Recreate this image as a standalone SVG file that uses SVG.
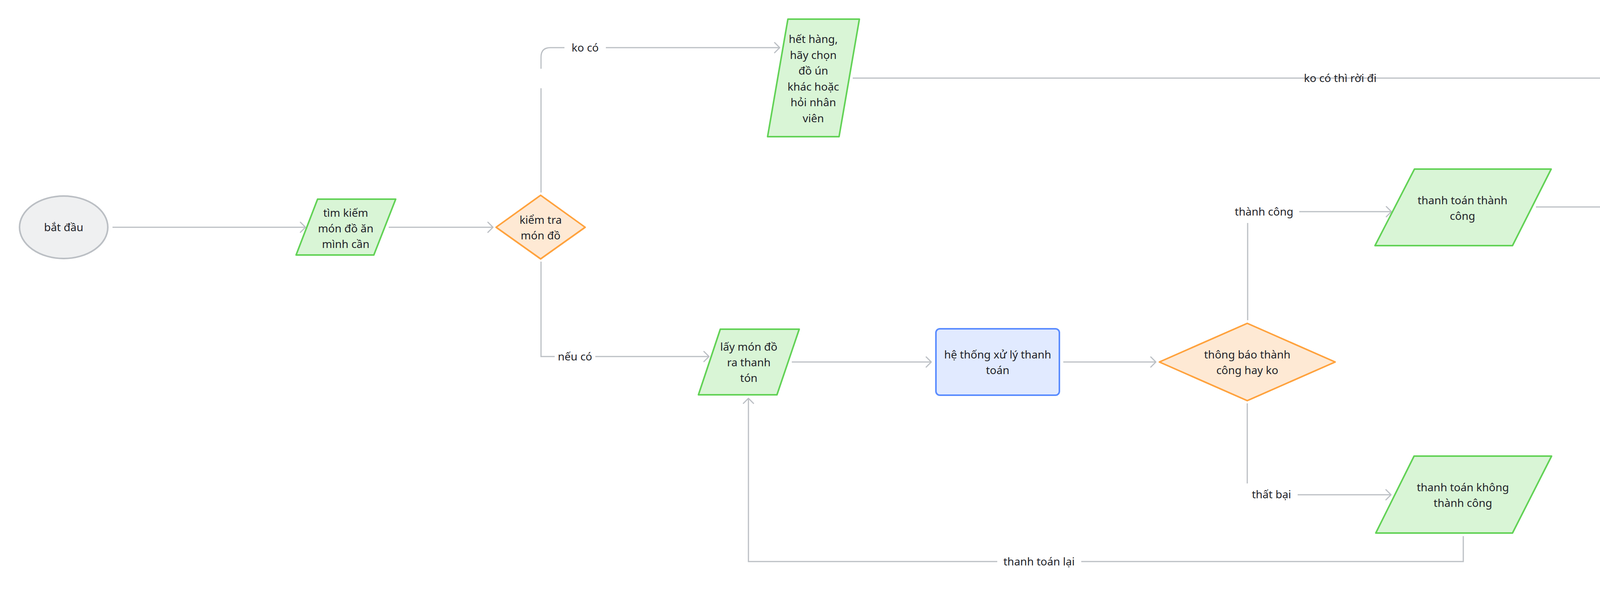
<svg xmlns="http://www.w3.org/2000/svg" width="4748" height="1516" viewBox="0 0 4748 1516">
  <style>
    text { font-family: "Noto Sans", "Open Sans", "DejaVu Sans", sans-serif; font-size: 28px; fill: #1f2329; text-anchor: middle; }
    .term { fill: #eff0f1; stroke: #bbbfc4; stroke-width: 4; }
    .io { fill: #d9f5d6; stroke: #62d256; stroke-width: 4; stroke-linejoin: round; }
    .dec { fill: #fee9d4; stroke: #ffa23d; stroke-width: 4; stroke-linejoin: round; }
    .proc { fill: #e1eaff; stroke: #5a8cff; stroke-width: 4; }
    .conn { fill: none; stroke: #bbbfc4; stroke-width: 3; marker-end: url(#arrow); }
    .lblbg { fill: #ffffff; stroke: none; }
  </style>
  <defs>
    <marker id="arrow" markerUnits="userSpaceOnUse" markerWidth="32" markerHeight="32" viewBox="-16 -16 32 32" refX="0" refY="0" orient="auto">
      <path d="M-13,-13 L0,0 L-13,13" fill="none" stroke="#bbbfc4" stroke-width="3" stroke-linecap="round" stroke-linejoin="round"/>
    </marker>
  </defs>
  <rect x="0" y="0" width="4748" height="1516" fill="#ffffff"/>

  <g id="connectors">
    <path class="conn" d="M288,582 H782"/>
    <path class="conn" d="M995,582 H1262"/>
    <path class="conn" d="M1385,493 V146 Q1385,122 1409,122 H1996"/>
    <path class="conn" d="M1385,670 V913 H1815"/>
    <path class="conn" d="M2027,927 H2384"/>
    <path class="conn" d="M2722,927 H2959"/>
    <path class="conn" d="M3194,820 V542 H3562"/>
    <path class="conn" d="M3932,530 H4235"/>
    <path class="conn" d="M2183,200 H4470 V423"/>
    <path class="conn" d="M3193,1033 V1267 H3561"/>
    <path class="conn" d="M3746,1373 V1438 H1916 V1020"/>
  </g>

  <g id="connector-labels">
    <rect class="lblbg" x="1445" y="98" width="106" height="50"/>
    <text x="1498" y="132">ko có</text>
    <rect class="lblbg" x="1321" y="176" width="222" height="50"/>
    <text x="3431" y="210">ko có thì rời đi</text>
    <rect class="lblbg" x="1420" y="889" width="104" height="50"/>
    <text x="1472" y="923">nếu có</text>
    <rect class="lblbg" x="3150" y="518" width="176" height="53"/>
    <text x="3236" y="552">thành công</text>
    <rect class="lblbg" x="3184" y="1238" width="138" height="60"/>
    <text x="3255" y="1276">thất bại</text>
    <rect class="lblbg" x="2553" y="1414" width="215" height="50"/>
    <text x="2660" y="1448">thanh toán lại</text>
  </g>

  <g id="node-start">
    <ellipse class="term" cx="163" cy="582" rx="113" ry="80"/>
    <text x="163" y="592">bắt đầu</text>
  </g>

  <g id="node-search">
    <polygon class="io" points="813,510 1013,510 957,653 758,653"/>
    <text x="885" y="555">tìm kiếm</text>
    <text x="885" y="595">món đồ ăn</text>
    <text x="885" y="635">mình cần</text>
  </g>

  <g id="node-check">
    <polygon class="dec" points="1384,500 1498,582 1384,663 1270,582"/>
    <text x="1384" y="573">kiểm tra</text>
    <text x="1384" y="613">món đồ</text>
  </g>

  <g id="node-outofstock">
    <polygon class="io" points="2017,49 2200,49 2148,350 1965,350"/>
    <text x="2082" y="110">hết hàng,</text>
    <text x="2082" y="150.5">hãy chọn</text>
    <text x="2082" y="191">đồ ún</text>
    <text x="2082" y="231.5">khác hoặc</text>
    <text x="2082" y="272">hỏi nhân</text>
    <text x="2082" y="312.5">viên</text>
  </g>

  <g id="node-take">
    <polygon class="io" points="1844,843 2046,843 1989,1011 1788,1011"/>
    <text x="1917" y="898">lấy món đồ</text>
    <text x="1917" y="938">ra thanh</text>
    <text x="1917" y="978">tón</text>
  </g>

  <g id="node-system">
    <rect class="proc" x="2396" y="842" width="316" height="170" rx="10" ry="10"/>
    <text x="2554" y="918">hệ thống xử lý thanh</text>
    <text x="2554" y="958">toán</text>
  </g>

  <g id="node-notify">
    <polygon class="dec" points="3193,828 3418,927 3193,1026 2968,927"/>
    <text x="3193" y="918">thông báo thành</text>
    <text x="3193" y="958">công hay ko</text>
  </g>

  <g id="node-success">
    <polygon class="io" points="3621,433 3971,433 3872,629 3520,629"/>
    <text x="3744" y="523">thanh toán thành</text>
    <text x="3744" y="563">công</text>
  </g>

  <g id="node-end">
    <ellipse class="term" cx="4470" cy="530" rx="226" ry="99"/>
    <text x="4470" y="542">kết thúc</text>
  </g>

  <g id="node-fail">
    <polygon class="io" points="3620,1168 3972,1168 3872,1365 3522,1365"/>
    <text x="3745" y="1258">thanh toán không</text>
    <text x="3745" y="1298">thành công</text>
  </g>
</svg>
